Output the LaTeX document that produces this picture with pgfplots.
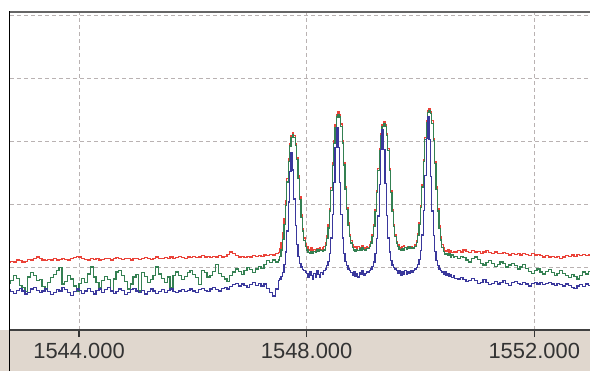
\documentclass[border=0pt]{standalone}
\usepackage{fontspec}
\setmainfont{Liberation Sans}
\usepackage{pgfplots}
\usepackage{pgfplotstable}
\pgfplotsset{compat=1.18}
\definecolor{cred}{RGB}{234,66,56}
\definecolor{cgreen}{RGB}{52,128,82}
\definecolor{cblue}{RGB}{58,56,156}
\definecolor{cgrid}{RGB}{185,178,178}
\definecolor{cbeige}{RGB}{224,215,206}
\pgfplotstableread{
x r g b
1542.75 -49.3 -52.6 -53.6
1542.80 -49.1 -52.1 -53.9
1542.85 -49.2 -51.4 -54.2
1542.90 -48.9 -51.8 -53.7
1542.95 -49.0 -52.9 -53.4
1543.00 -49.2 -53.3 -53.8
1543.05 -49.1 -53.9 -54.3
1543.10 -48.8 -51.6 -54.0
1543.15 -48.9 -50.9 -53.5
1543.20 -48.6 -51.3 -53.3
1543.25 -48.4 -52.2 -53.7
1543.30 -48.6 -52.0 -54.1
1543.35 -48.9 -53.1 -53.8
1543.40 -49.0 -53.6 -53.4
1543.45 -48.8 -52.5 -53.9
1543.50 -48.9 -51.7 -54.4
1543.55 -48.7 -51.2 -54.0
1543.60 -48.9 -50.6 -53.6
1543.65 -48.8 -50.1 -53.8
1543.70 -48.6 -52.7 -53.3
1543.75 -48.8 -52.3 -53.6
1543.80 -48.9 -51.4 -54.1
1543.85 -48.7 -51.9 -54.5
1543.90 -48.5 -53.0 -53.9
1543.95 -48.3 -53.8 -53.5
1544.00 -48.4 -52.6 -53.7
1544.05 -48.7 -51.8 -54.2
1544.10 -48.8 -52.4 -53.8
1544.15 -48.9 -51.1 -53.4
1544.20 -48.7 -50.0 -53.9
1544.25 -48.8 -51.6 -54.3
1544.30 -48.6 -52.5 -53.7
1544.35 -48.9 -53.2 -53.5
1544.40 -48.8 -52.1 -54.0
1544.45 -48.6 -51.5 -53.6
1544.50 -48.7 -52.0 -53.3
1544.55 -48.9 -53.9 -53.8
1544.60 -48.7 -51.9 -54.2
1544.65 -48.5 -50.8 -53.9
1544.70 -48.7 -50.5 -53.5
1544.75 -48.8 -51.4 -53.7
1544.80 -48.6 -52.3 -54.4
1544.85 -48.7 -53.5 -54.0
1544.90 -48.9 -52.7 -53.6
1544.95 -48.7 -51.6 -53.4
1545.00 -48.6 -51.2 -53.8
1545.05 -48.8 -53.8 -54.1
1545.10 -48.7 -50.9 -53.7
1545.15 -48.5 -51.5 -54.3
1545.20 -48.6 -52.4 -53.9
1545.25 -48.8 -52.0 -53.5
1545.30 -48.6 -51.3 -53.8
1545.35 -48.4 -50.0 -54.2
1545.40 -48.6 -51.1 -53.9
1545.45 -48.7 -51.8 -53.6
1545.50 -48.5 -52.5 -54.0
1545.55 -48.6 -51.6 -53.7
1545.60 -48.4 -53.2 -53.5
1545.65 -48.6 -51.4 -53.9
1545.70 -48.5 -50.8 -54.1
1545.75 -48.3 -51.3 -53.8
1545.80 -48.5 -52.0 -53.6
1545.85 -48.6 -51.5 -53.9
1545.90 -48.4 -50.9 -53.7
1545.95 -48.5 -50.6 -53.5
1546.00 -48.3 -51.2 -53.8
1546.05 -48.5 -51.7 -54.0
1546.10 -48.4 -52.8 -53.6
1546.15 -48.2 -50.5 -53.4
1546.20 -48.4 -50.9 -53.7
1546.25 -48.3 -51.6 -53.9
1546.30 -48.5 -51.3 -53.5
1546.35 -48.3 -50.7 -53.3
1546.40 -48.4 -49.6 -53.6
1546.45 -48.2 -51.0 -53.8
1546.50 -48.4 -51.5 -53.4
1546.55 -48.3 -51.9 -53.2
1546.60 -48.0 -52.3 -53.5
1546.65 -47.6 -51.4 -53.1
1546.70 -47.9 -50.8 -52.8
1546.75 -48.2 -50.3 -52.6
1546.80 -48.4 -50.7 -53.0
1546.85 -48.3 -51.2 -52.7
1546.90 -48.5 -50.6 -52.9
1546.95 -48.3 -50.1 -53.2
1547.00 -48.4 -50.4 -52.8
1547.05 -48.2 -50.9 -52.5
1547.10 -48.3 -50.3 -52.9
1547.15 -48.2 -49.9 -52.6
1547.20 -48.3 -50.2 -53.0
1547.25 -48.1 -49.6 -52.7
1547.30 -48.2 -49.0 -53.4
1547.35 -48.0 -49.3 -54.1
1547.40 -48.1 -48.9 -54.6
1547.45 -47.9 -49.2 -53.5
1547.500 -47.7 -48.9 -52.1
1547.525 -47.1 -48.3 -51.9
1547.550 -46.2 -47.3 -51.5
1547.575 -44.6 -45.6 -50.9
1547.600 -42.3 -43.2 -49.6
1547.625 -39.4 -40.2 -47.6
1547.650 -35.9 -36.5 -44.3
1547.675 -32.8 -33.3 -39.7
1547.700 -30.4 -30.8 -34.8
1547.725 -29.1 -29.4 -31.9
1547.750 -28.7 -29.0 -34.6
1547.775 -29.1 -29.4 -39.2
1547.800 -30.4 -30.7 -43.4
1547.825 -32.6 -32.9 -46.4
1547.850 -35.5 -35.9 -48.3
1547.875 -38.9 -39.3 -49.5
1547.900 -41.7 -42.1 -50.0
1547.925 -43.9 -44.3 -50.4
1547.950 -45.4 -45.8 -50.6
1547.975 -46.3 -46.8 -50.8
1548.000 -46.8 -47.3 -51.0
1548.025 -47.2 -47.7 -51.6
1548.050 -47.3 -47.9 -50.8
1548.075 -47.0 -47.6 -51.3
1548.100 -47.4 -47.8 -51.9
1548.125 -47.2 -47.5 -51.0
1548.150 -47.5 -47.7 -51.6
1548.175 -47.1 -47.3 -50.6
1548.200 -47.3 -47.5 -51.2
1548.225 -47.0 -47.2 -51.7
1548.250 -47.2 -47.4 -50.9
1548.275 -47.0 -47.5 -51.2
1548.300 -46.8 -47.3 -50.6
1548.325 -46.1 -46.6 -50.3
1548.350 -45.0 -45.5 -49.8
1548.375 -43.3 -43.8 -49.1
1548.400 -40.7 -41.1 -47.8
1548.425 -37.4 -37.8 -45.4
1548.450 -33.5 -33.9 -41.7
1548.475 -30.0 -30.4 -36.6
1548.500 -27.4 -27.8 -31.0
1548.525 -25.8 -26.2 -27.8
1548.550 -25.4 -25.8 -31.0
1548.575 -25.8 -26.2 -36.6
1548.600 -27.3 -27.7 -41.7
1548.625 -29.9 -30.3 -45.4
1548.650 -33.4 -33.8 -47.8
1548.675 -37.2 -37.6 -49.1
1548.700 -40.5 -40.9 -49.8
1548.725 -43.0 -43.4 -50.3
1548.750 -44.8 -45.2 -50.6
1548.775 -45.8 -46.2 -50.9
1548.800 -46.5 -46.9 -51.3
1548.825 -46.9 -47.3 -50.8
1548.850 -46.7 -47.5 -51.5
1548.875 -47.0 -47.2 -51.0
1548.900 -46.8 -47.4 -51.6
1548.925 -47.1 -47.1 -50.9
1548.950 -46.9 -47.3 -51.2
1548.975 -46.6 -47.0 -50.6
1549.000 -46.9 -47.2 -51.4
1549.025 -47.0 -47.4 -51.0
1549.050 -46.8 -47.1 -50.8
1549.075 -46.9 -47.1 -50.8
1549.100 -46.5 -46.8 -50.5
1549.125 -45.9 -46.2 -50.3
1549.150 -44.9 -45.2 -49.9
1549.175 -43.3 -43.6 -49.2
1549.200 -40.9 -41.2 -47.8
1549.225 -37.9 -38.2 -45.5
1549.250 -34.4 -34.7 -41.9
1549.275 -31.2 -31.5 -36.9
1549.300 -28.8 -29.1 -31.4
1549.325 -27.4 -27.7 -28.2
1549.350 -27.0 -27.3 -31.4
1549.375 -27.4 -27.7 -36.8
1549.400 -28.8 -29.1 -41.8
1549.425 -31.2 -31.5 -45.4
1549.450 -34.4 -34.7 -47.6
1549.475 -37.9 -38.2 -49.0
1549.500 -40.9 -41.2 -49.7
1549.525 -43.3 -43.6 -50.1
1549.550 -44.9 -45.2 -50.3
1549.575 -45.9 -46.2 -50.6
1549.600 -46.5 -46.8 -51.0
1549.625 -46.9 -47.2 -50.6
1549.650 -47.1 -47.4 -51.3
1549.675 -46.8 -47.1 -50.8
1549.700 -46.6 -47.3 -51.1
1549.725 -46.9 -46.9 -50.5
1549.750 -47.0 -47.2 -51.2
1549.775 -46.7 -47.0 -50.7
1549.800 -46.9 -46.8 -51.0
1549.825 -46.8 -47.1 -50.6
1549.850 -46.9 -46.9 -50.9
1549.875 -46.9 -47.0 -50.6
1549.900 -46.5 -46.8 -50.3
1549.925 -45.8 -46.1 -50.1
1549.950 -44.7 -45.0 -49.6
1549.975 -42.9 -43.2 -48.8
1550.000 -40.3 -40.6 -47.4
1550.025 -37.0 -37.3 -44.9
1550.050 -33.0 -33.3 -41.0
1550.075 -29.4 -29.7 -35.5
1550.100 -26.8 -27.1 -29.6
1550.125 -25.2 -25.5 -26.2
1550.150 -24.8 -25.1 -29.7
1550.175 -25.3 -25.6 -35.6
1550.200 -26.8 -27.2 -41.1
1550.225 -29.6 -29.9 -45.0
1550.250 -33.2 -33.6 -47.5
1550.275 -37.3 -37.7 -49.0
1550.300 -40.7 -41.1 -49.8
1550.325 -43.4 -43.9 -50.3
1550.350 -45.2 -45.7 -50.5
1550.375 -46.4 -46.9 -50.8
1550.400 -47.0 -47.5 -51.1
1550.425 -47.4 -48.0 -50.7
1550.450 -47.5 -47.8 -51.3
1550.475 -47.3 -48.2 -51.0
1550.500 -47.6 -47.9 -51.5
1550.525 -47.4 -48.4 -51.2
1550.550 -47.7 -48.1 -51.7
1550.575 -47.5 -48.5 -51.4
1550.600 -47.6 -48.3 -51.8
1550.65 -47.4 -48.6 -51.9
1550.70 -47.6 -48.3 -51.7
1550.75 -47.3 -48.5 -52.0
1550.80 -47.5 -48.9 -52.3
1550.85 -47.7 -49.2 -52.1
1550.90 -47.4 -48.7 -51.8
1550.95 -47.6 -48.4 -52.2
1551.00 -47.5 -48.8 -52.6
1551.05 -47.8 -49.4 -52.4
1551.10 -47.6 -49.7 -52.0
1551.15 -47.4 -49.3 -52.5
1551.20 -47.7 -49.0 -52.8
1551.25 -47.9 -49.5 -52.6
1551.30 -47.6 -49.9 -52.3
1551.35 -47.8 -49.6 -52.7
1551.40 -47.9 -49.2 -52.5
1551.45 -47.7 -49.5 -52.2
1551.50 -47.9 -50.0 -52.6
1551.55 -48.1 -49.7 -52.9
1551.60 -47.8 -49.4 -52.5
1551.65 -48.0 -49.8 -52.3
1551.70 -47.9 -50.3 -52.6
1551.75 -48.1 -50.0 -52.8
1551.80 -47.8 -49.6 -52.4
1551.85 -48.0 -50.2 -52.7
1551.90 -48.2 -50.7 -53.0
1551.95 -47.9 -51.0 -52.6
1552.00 -48.1 -50.6 -52.4
1552.05 -48.0 -50.3 -52.7
1552.10 -48.2 -50.8 -52.5
1552.15 -48.4 -51.1 -52.8
1552.20 -48.2 -50.7 -52.6
1552.25 -48.4 -50.4 -52.4
1552.30 -48.3 -50.9 -52.7
1552.35 -48.5 -51.3 -52.9
1552.40 -48.3 -51.0 -52.6
1552.45 -48.6 -50.6 -52.8
1552.50 -48.4 -51.0 -53.0
1552.55 -48.2 -51.4 -52.7
1552.60 -48.3 -51.7 -52.9
1552.65 -48.1 -51.2 -53.2
1552.70 -48.3 -51.5 -53.4
1552.75 -48.0 -51.9 -53.0
1552.80 -48.2 -51.3 -52.8
1552.85 -48.0 -50.8 -53.1
1552.90 -48.2 -51.1 -52.7
1552.95 -48.1 -50.7 -52.9
1553.00 -48.0 -50.9 -52.6
}\data
\begin{document}
\begin{tikzpicture}[x=1bp,y=1bp]
\useasboundingbox (0,0) rectangle (590,371);
\fill[white] (0,0) rectangle (590,371);
\fill[cbeige] (0,0) rectangle (590,41);
\begin{axis}[
  at={(10bp,41bp)}, anchor=south west,
  scale only axis, width=580bp, height=318bp,
  xmin=1542.787, xmax=1552.98,
  ymin=-60, ymax=-9.52,
  axis line style={draw=none},
  xtick={1544,1548,1552},
  xticklabels={1544.000,1548.000,1552.000},
  ytick={-50,-40,-30,-20,-10},
  yticklabels={},
  ytick style={draw=none},
  xtick pos=bottom, tick align=outside,
  major tick length=7bp,
  xtick style={draw=black!80, line width=1.2bp},
  xticklabel style={font=\fontsize{22}{24}\selectfont, text=black!80, inner sep=0pt, anchor=north, yshift=-6bp},
  grid=major,
  major grid style={draw=cgrid, line width=0.9bp, dash pattern=on 4bp off 3bp},
  every axis plot/.append style={line width=1.25bp, const plot, mark=none},
]
\addplot[cred] table[x=x,y=r]{\data};
\addplot[cgreen] table[x=x,y=g]{\data};
\addplot[cblue] table[x=x,y=b]{\data};
\end{axis}
\draw[black!60, line width=1.5bp] (10,359) -- (590,359);
\draw[black!75, line width=1.3bp] (10,41) -- (590,41);
\draw[black, line width=1.2bp] (9.5,0) -- (9.5,359.7);
\end{tikzpicture}
\end{document}
